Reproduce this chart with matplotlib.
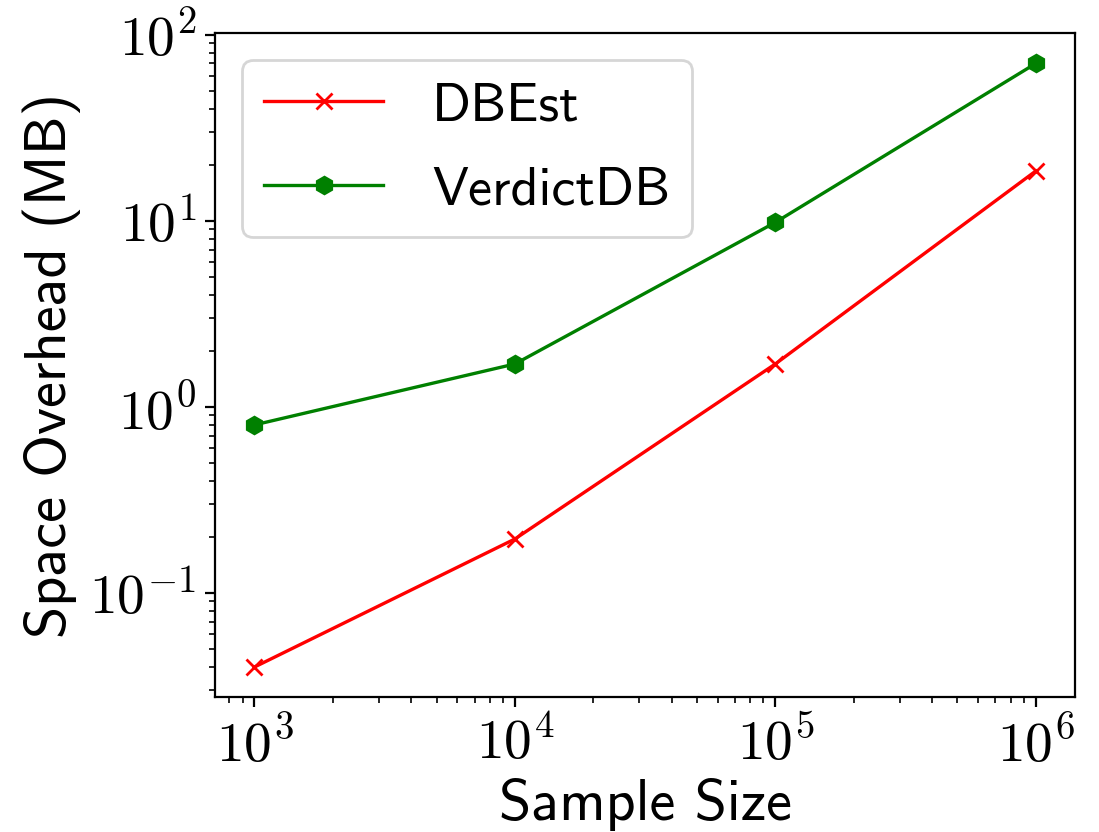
import math

import matplotlib
matplotlib.use("Agg")
import matplotlib.pyplot as plt
from matplotlib.ticker import FuncFormatter, NullFormatter

plt.rcParams["mathtext.fontset"] = "cm"
plt.rcParams["font.family"] = ["cmss10", "DejaVu Sans"]

sample_sizes = [1e3, 1e4, 1e5, 1e6]
dbest = [0.04, 0.195, 1.7, 18.5]
verdictdb = [0.8, 1.7, 9.8, 70]


def pow10(v, pos):
    return r"$10^{%d}$" % int(round(math.log10(v)))


fig, ax = plt.subplots(figsize=(5.495, 4.16), dpi=200)
fig.subplots_adjust(left=0.196, right=0.978, top=0.960, bottom=0.162)

ax.plot(sample_sizes, dbest, color="red", marker="x", lw=1.2, label="DBEst")
ax.plot(sample_sizes, verdictdb, color="green", marker="h", lw=1.2, label="VerdictDB")
ax.set_xscale("log")
ax.set_yscale("log")
for axis in (ax.xaxis, ax.yaxis):
    axis.set_major_formatter(FuncFormatter(pow10))
    axis.set_minor_formatter(NullFormatter())

ax.set_xlabel("Sample Size", fontsize=21, labelpad=2)
ax.set_ylabel("Space Overhead (MB)", fontsize=21, labelpad=3)
ax.tick_params(labelsize=20)

ax.legend(loc="upper left", fontsize=19.5, handlelength=2.2,
          handletextpad=0.9, labelspacing=0.65)

fig.savefig("out.png", dpi=200)
